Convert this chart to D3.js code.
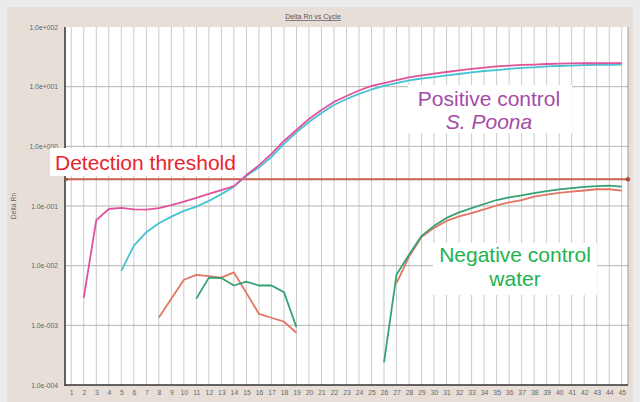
<!DOCTYPE html>
<html>
<head>
<meta charset="utf-8">
<script src="https://cdnjs.cloudflare.com/ajax/libs/d3/7.8.5/d3.min.js"></script>
<style>
  body { margin: 0; background: #ebebeb; }
  svg { display: block; font-family: 'Liberation Sans', Arial, sans-serif; }
</style>
</head>
<body>
<div id="chart"></div>
<script>
/* -----------------    DATA     ------------------ */

const cycles = d3.range(1, 46);
const yTickValues = [1e-4, 1e-3, 1e-2, 1e-1, 1e0, 1e1, 1e2];
const yTickLabels = ['1.0e-004', '1.0e-003', '1.0e-002', '1.0e-001', '1.0e+000', '1.0e+001', '1.0e+002'];
const threshold = 0.28;

// positive control, replicate 1 (magenta), cycles 2..45
const posMagentaCycles = d3.range(2, 46);
const posMagenta = [0.0029, 0.058, 0.089, 0.093, 0.088, 0.087, 0.092, 0.103, 0.118, 0.137, 0.16, 0.185, 0.215, 0.33,
  0.48, 0.746, 1.23, 1.88, 2.88, 4.07, 5.55, 6.98, 8.63, 10.3, 11.5, 12.9, 14.3, 15.4, 16.6,
  17.6, 18.7, 19.8, 20.9, 21.8, 22.6, 23.1, 23.5, 24.0, 24.3, 24.5, 24.7, 24.7, 24.8, 24.8];

// positive control, replicate 2 (cyan), cycles 5..45
const posCyanCycles = d3.range(5, 46);
const posCyan = [0.0082, 0.0215, 0.0364, 0.0515, 0.0664, 0.0827, 0.0977, 0.1216, 0.158, 0.211, 0.32,
  0.44, 0.664, 1.1, 1.71, 2.56, 3.63, 4.94, 6.22, 7.55, 8.97, 10.3, 11.5, 12.7, 13.7, 14.5,
  15.4, 16.3, 17.3, 18.3, 19.0, 19.8, 20.6, 21.1, 21.8, 22.2, 22.6, 22.9, 23.1, 23.3, 23.4];

// negative control (water) - early noise
const negRedEarlyCycles = d3.range(8, 20);
const negRedEarly = [0.00135, 0.0028, 0.0058, 0.0070, 0.0067, 0.0063, 0.0077, 0.0035, 0.00156, 0.00134, 0.00115, 0.00075];
const negGreenEarlyCycles = d3.range(11, 20);
const negGreenEarly = [0.0028, 0.0063, 0.0062, 0.00465, 0.0054, 0.00465, 0.00465, 0.0036, 0.00093];

// negative control (water) - late rise
const negGreenLateCycles = d3.range(26, 46);
const negGreenLate = [0.00024, 0.0071, 0.0152, 0.0316, 0.0465, 0.0632, 0.078, 0.0918, 0.108, 0.126,
  0.139, 0.151, 0.164, 0.177, 0.19, 0.199, 0.21, 0.215, 0.22, 0.211];
const negRedLateCycles = d3.range(27, 46);
const negRedLate = [0.0051, 0.0142, 0.0303, 0.043, 0.0562, 0.067, 0.0757, 0.0877, 0.102, 0.115,
  0.126, 0.144, 0.155, 0.166, 0.174, 0.182, 0.191, 0.191, 0.181];

/* -----------------    SETTINGS     ------------------ */

const graphSettings = {
    svgWidth: 640,
    svgHeight: 402,
    left: 65,
    right: 628,
    top: 27,
    bottom: 385,

    magenta: '#e0529c',
    cyan: '#45c3d3',
    green: '#35a273',
    salmon: '#e27563',
    thresholdColor: '#c9604f',
    grid: '#cacaca'
};

/* -----------------    DRAW     ------------------ */

const g = graphSettings;

const svg = d3.select('#chart')
    .append('svg')
    .attr('width', g.svgWidth)
    .attr('height', g.svgHeight);

// beige panel
svg.append('rect')
    .attr('x', 7).attr('y', 7)
    .attr('width', 626).attr('height', 400)
    .attr('fill', '#e7dfd7');

// plot background
svg.append('rect')
    .attr('x', g.left).attr('y', g.top)
    .attr('width', g.right - g.left).attr('height', g.bottom - g.top)
    .attr('fill', '#ffffff');

const x = d3.scaleLinear().domain([0.5, 45.5]).range([g.left, g.right]);
const y = d3.scaleLog().domain([1e-4, 1e2]).range([g.bottom, g.top]);

// Grid
svg.append('g')
    .selectAll('line')
    .data(cycles)
    .enter()
    .append('line')
    .attr('x1', d => x(d)).attr('x2', d => x(d))
    .attr('y1', g.top).attr('y2', g.bottom)
    .attr('stroke', g.grid)
    .attr('stroke-width', 1);

svg.append('g')
    .selectAll('line')
    .data(yTickValues.slice(1, -1))
    .enter()
    .append('line')
    .attr('x1', g.left).attr('x2', g.right)
    .attr('y1', d => y(d)).attr('y2', d => y(d))
    .attr('stroke', '#b5b5b5')
    .attr('stroke-width', 1);

// Axes
const yAxis = d3.axisLeft(y)
    .tickValues(yTickValues)
    .tickFormat((d, i) => yTickLabels[i])
    .tickSize(0)
    .tickPadding(7);

const xAxis = d3.axisBottom(x)
    .tickValues(cycles)
    .tickFormat(d3.format('d'))
    .tickSize(0)
    .tickPadding(5);

const yAxisG = svg.append('g')
    .attr('transform', `translate(${g.left}, 0)`)
    .call(yAxis);

const xAxisG = svg.append('g')
    .attr('transform', `translate(0, ${g.bottom})`)
    .call(xAxis);

[yAxisG, xAxisG].forEach(a => {
    a.select('.domain').remove();
    a.selectAll('text')
        .attr('fill', '#666')
        .style('font-size', '6.8px')
        .style('font-family', "'Liberation Sans', Arial, sans-serif");
});

// frame
svg.append('line')
    .attr('x1', g.right).attr('x2', g.right)
    .attr('y1', g.top).attr('y2', g.bottom)
    .attr('stroke', '#999').attr('stroke-width', 1);
svg.append('line')
    .attr('x1', g.left).attr('x2', g.left)
    .attr('y1', g.top).attr('y2', g.bottom + 1)
    .attr('stroke', '#333').attr('stroke-width', 1.5);
svg.append('line')
    .attr('x1', g.left).attr('x2', g.right)
    .attr('y1', g.bottom).attr('y2', g.bottom)
    .attr('stroke', '#333').attr('stroke-width', 1.5);

// Title and y label
svg.append('text')
    .attr('x', 313).attr('y', 19)
    .attr('text-anchor', 'middle')
    .attr('fill', '#555')
    .style('font-size', '7px')
    .style('text-decoration', 'underline')
    .text('Delta Rn vs Cycle');

svg.append('text')
    .attr('transform', 'translate(16, 206) rotate(-90)')
    .attr('text-anchor', 'middle')
    .attr('fill', '#666')
    .style('font-size', '6.8px')
    .text('Delta Rn');

// Threshold line
svg.append('line')
    .attr('x1', g.left).attr('x2', g.right)
    .attr('y1', y(threshold)).attr('y2', y(threshold))
    .attr('stroke', g.thresholdColor)
    .attr('stroke-width', 2);
svg.append('circle')
    .attr('cx', g.right).attr('cy', y(threshold)).attr('r', 2.2)
    .attr('fill', '#a84a3c');
svg.append('circle')
    .attr('cx', g.left + 1.5).attr('cy', y(threshold)).attr('r', 1.5)
    .attr('fill', '#a84a3c');

// Curves
const line = d3.line()
    .x(d => x(d[0]))
    .y(d => y(d[1]));

const series = [
    { c: negRedEarlyCycles, v: negRedEarly, color: g.salmon },
    { c: negGreenEarlyCycles, v: negGreenEarly, color: g.green },
    { c: negRedLateCycles, v: negRedLate, color: g.salmon },
    { c: negGreenLateCycles, v: negGreenLate, color: g.green },
    { c: posCyanCycles, v: posCyan, color: g.cyan },
    { c: posMagentaCycles, v: posMagenta, color: g.magenta }
];

svg.append('g')
    .selectAll('path')
    .data(series)
    .enter()
    .append('path')
    .attr('d', s => line(d3.zip(s.c, s.v)))
    .attr('fill', 'none')
    .attr('stroke', s => s.color)
    .attr('stroke-width', 1.8)
    .attr('stroke-linejoin', 'round');

// Annotation boxes
const notes = [
    { box: [50, 148, 192, 28], lines: [{ t: 'Detection threshold', x: 55, y: 170 }], color: '#e8242c', anchor: 'start' },
    { box: [408, 85, 164, 48], lines: [{ t: 'Positive control', x: 489, y: 106 }, { t: 'S. Poona', x: 489, y: 129, italic: true }], color: '#a54ba6', anchor: 'middle' },
    { box: [433, 243, 164, 52], lines: [{ t: 'Negative control', x: 515, y: 262 }, { t: 'water', x: 515, y: 286 }], color: '#22b24c', anchor: 'middle' }
];

notes.forEach(n => {
    svg.append('rect')
        .attr('x', n.box[0]).attr('y', n.box[1])
        .attr('width', n.box[2]).attr('height', n.box[3])
        .attr('fill', '#ffffff');
    n.lines.forEach(l => {
        svg.append('text')
            .attr('x', l.x).attr('y', l.y)
            .attr('text-anchor', n.anchor)
            .attr('fill', n.color)
            .style('font-size', '21px')
            .style('font-style', l.italic ? 'italic' : 'normal')
            .text(l.t);
    });
});
</script>
</body>
</html>
